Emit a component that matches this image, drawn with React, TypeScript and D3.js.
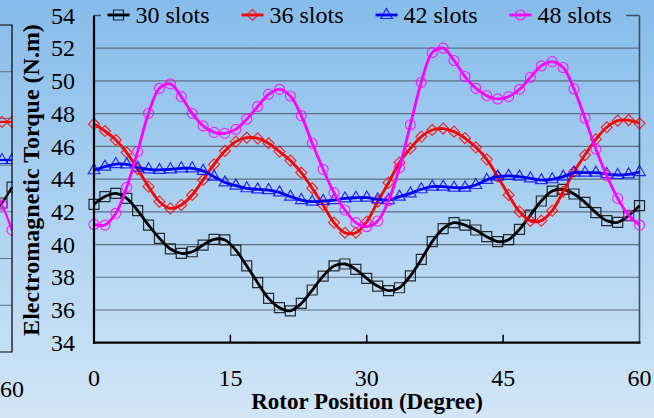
import React from 'react';
import * as d3 from 'd3';

const W = 654;
const H = 418;

// Series definitions
const seriesNames = ['30 slots', '36 slots', '42 slots', '48 slots'];
const seriesColors = ['#000000', '#ff0000', '#0000ff', '#ff00ff'];
const seriesMarkers = ['square', 'diamond', 'triangle', 'circle'];

// Rotor positions sampled every 1.2 degrees over one 60-degree period
const rotorPositions = d3.range(51).map((i) => Math.round(i * 12) / 10);

const torque30 = [
  42.46, 42.93, 43.13, 42.82, 42.07, 41.19, 40.38, 39.73, 39.46, 39.56,
  39.97, 40.32, 40.28, 39.66, 38.69, 37.67, 36.71, 36.14, 35.95, 36.4,
  37.22, 38.07, 38.69, 38.81, 38.48, 37.93, 37.46, 37.18, 37.36, 38.08,
  39.09, 40.18, 40.97, 41.34, 41.19, 40.89, 40.48, 40.18, 40.3, 40.93,
  41.8, 42.66, 43.27, 43.37, 43.09, 42.58, 41.95, 41.46, 41.36, 41.76, 42.38,
];
const torque36 = [
  47.37, 46.94, 46.39, 45.62, 44.6, 43.54, 42.62, 42.21, 42.42, 43.03,
  43.95, 44.9, 45.72, 46.29, 46.53, 46.49, 46.19, 45.68, 45.13, 44.39,
  43.44, 42.42, 41.34, 40.72, 40.72, 41.4, 42.62, 43.78, 45.01, 45.88,
  46.6, 47.0, 47.09, 46.9, 46.5, 45.94, 45.21, 44.15, 43.03, 42.01,
  41.44, 41.46, 42.07, 43.23, 44.45, 45.47, 46.43, 47.17, 47.57, 47.61, 47.41,
];
const torque42 = [
  44.54, 44.76, 44.92, 44.9, 44.7, 44.6, 44.56, 44.6, 44.66, 44.66,
  44.5, 44.15, 43.8, 43.6, 43.44, 43.37, 43.33, 43.19, 42.93, 42.72,
  42.62, 42.66, 42.72, 42.82, 42.86, 42.87, 42.76, 42.72, 42.93, 43.13,
  43.38, 43.54, 43.54, 43.48, 43.48, 43.64, 43.95, 44.15, 44.2, 44.15,
  44.05, 43.94, 43.99, 44.15, 44.39, 44.39, 44.39, 44.31, 44.25, 44.29, 44.43,
];
const torque48 = [
  41.23, 41.19, 41.91, 43.5, 45.68, 48.02, 49.55, 49.82, 49.04, 48.02,
  47.25, 46.86, 46.8, 47.04, 47.66, 48.43, 49.18, 49.49, 49.08, 47.88,
  46.19, 44.6, 43.17, 42.11, 41.34, 41.09, 41.44, 42.68, 44.7, 47.31,
  49.92, 51.73, 52.0, 51.25, 50.27, 49.55, 49.1, 48.9, 49.04, 49.49,
  50.22, 50.92, 51.18, 50.82, 49.51, 47.72, 45.84, 44.21, 42.82, 41.8, 41.19,
];
const seriesValues = [torque30, torque36, torque42, torque48];

const yTicks = [34, 36, 38, 40, 42, 44, 46, 48, 50, 52, 54];
const xTicks = [0, 15, 30, 45, 60];

// Tail end of the neighbouring panel at the left edge
const neighbourPositions = [57.6, 58.8, 60];
const neighbour30 = [39.9, 40.38, 41.06];
const neighbour36 = [43.85, 43.85, 43.85];
const neighbour42 = [42.22, 42.22, 42.22];
const neighbour48 = [41.0, 40.29, 39.22];
const neighbourValues = [neighbour30, neighbour36, neighbour42, neighbour48];
const neighbourGrid = [34, 36, 38, 40, 42, 44, 46, 48];

const FONT = '"Liberation Serif", "DejaVu Serif", serif';
const textStyle = { fontFamily: FONT };

const x = d3.scaleLinear().domain([0, 60]).range([94, 639.5]);
const y = d3.scaleLinear().domain([34, 54]).range([342.7, 15.5]);

const nx = d3.scaleLinear().domain([58.8, 60]).range([2, 12]);
const ny = d3.scaleLinear().domain([34, 48]).range([352, 25]);

function markerPath(kind: string): string {
  switch (kind) {
    case 'square':
      return 'M-5,-5H5V5H-5Z';
    case 'diamond':
      return 'M0,-5.5L5.5,0L0,5.5L-5.5,0Z';
    case 'triangle':
      return 'M0,-6.5L5.8,3.5L-5.8,3.5Z';
    default:
      return 'M-5,0A5,5 0 1,0 5,0A5,5 0 1,0 -5,0Z';
  }
}

function Marker({ kind, color, cx, cy }: { kind: string; color: string; cx: number; cy: number }) {
  return (
    <path
      d={markerPath(kind)}
      transform={`translate(${cx},${cy})`}
      fill="none"
      stroke={color}
      strokeWidth={1.2}
      strokeOpacity={0.8}
    />
  );
}

export default function App() {
  const line = d3
    .line<number>()
    .x((_, i) => x(rotorPositions[i]))
    .y((d) => y(d))
    .curve(d3.curveCatmullRom.alpha(0.5));

  const nLine = d3
    .line<number>()
    .x((_, i) => nx(neighbourPositions[i]))
    .y((d) => ny(d))
    .curve(d3.curveCatmullRom.alpha(0.5));

  const gridColor = '#5d7083';

  return (
    <svg
      width={W}
      height={H}
      style={{ position: 'absolute', left: 0, top: 0, display: 'block' }}
    >
      <defs>
        <linearGradient id="bg" gradientUnits="userSpaceOnUse" x1={0} y1={0} x2={0} y2={H}>
          <stop offset="0" stopColor="#86bcea" />
          <stop offset="1" stopColor="#d2e6f7" />
        </linearGradient>
        <clipPath id="neighbourClip">
          <rect x={0} y={0} width={13} height={H} />
        </clipPath>
      </defs>
      <rect x={0} y={0} width={W} height={H} fill="url(#bg)" />

      {/* neighbouring panel tail */}
      <g clipPath="url(#neighbourClip)">
        {neighbourGrid.slice(1, -1).map((v) => (
          <line key={v} x1={0} x2={12} y1={ny(v)} y2={ny(v)} stroke={gridColor} strokeWidth={1} />
        ))}
        {neighbourValues.map((vals, si) => (
          <g key={si}>
            <path d={nLine(vals) || ''} fill="none" stroke={seriesColors[si]} strokeWidth={2.2} />
            {vals.map((v, i) => (
              <Marker key={i} kind={seriesMarkers[si]} color={seriesColors[si]} cx={nx(neighbourPositions[i])} cy={ny(v)} />
            ))}
          </g>
        ))}
        <path d={`M0,${ny(48)}H12V${ny(34)}H0`} fill="none" stroke="#000" strokeWidth={1.2} />
      </g>
      <text x={nx(60)} y={397} fontSize={24} textAnchor="middle" fill="#000" style={textStyle}>60</text>

      {/* gridlines */}
      {yTicks.slice(1, -1).map((v) => (
        <line key={v} x1={x(0)} x2={x(60)} y1={y(v)} y2={y(v)} stroke={gridColor} strokeWidth={1.2} />
      ))}

      {/* plot frame */}
      <line x1={x(0)} x2={x(60)} y1={y(54)} y2={y(54)} stroke="#3d4d5c" strokeWidth={1.4} />
      <line x1={x(60)} x2={x(60)} y1={y(54)} y2={y(34)} stroke="#3d4d5c" strokeWidth={1.6} />

      {/* series */}
      {seriesValues.map((vals, si) => (
        <g key={seriesNames[si]}>
          <path d={line(vals) || ''} fill="none" stroke={seriesColors[si]} strokeWidth={2.8} />
          {vals.map((v, i) => (
            <Marker key={i} kind={seriesMarkers[si]} color={seriesColors[si]} cx={x(rotorPositions[i])} cy={y(v)} />
          ))}
        </g>
      ))}

      {/* axes */}
      <line x1={x(0)} x2={x(0)} y1={y(54)} y2={y(34) + 1} stroke="#000" strokeWidth={2.2} />
      <line x1={x(0) - 1} x2={x(60) + 1} y1={y(34)} y2={y(34)} stroke="#000" strokeWidth={2.2} />
      {xTicks.slice(1, -1).map((t) => (
        <line key={t} x1={x(t)} x2={x(t)} y1={y(34)} y2={y(34) - 8} stroke="#000" strokeWidth={1.5} />
      ))}

      {yTicks.map((v) => (
        <text key={v} x={75} y={y(v)} dy="0.34em" fontSize={24} textAnchor="end" fill="#000" style={textStyle}>
          {v}
        </text>
      ))}
      {xTicks.map((t) => (
        <text key={t} x={x(t)} y={386} fontSize={24} textAnchor="middle" fill="#000" style={textStyle}>
          {t}
        </text>
      ))}

      <text x={367} y={409} fontSize={23} fontWeight="bold" textAnchor="middle" fill="#000" style={textStyle}>
        Rotor Position (Degree)
      </text>
      <text
        transform="translate(39,180) rotate(-90)"
        fontSize={24}
        fontWeight="bold"
        textAnchor="middle"
        fill="#000"
        style={textStyle}
      >
        Electromagnetic Torque (N.m)
      </text>

      {/* legend */}
      <rect x={101} y={0} width={525} height={30} fill="url(#bg)" />
      {seriesNames.map((name, i) => {
        const lx = 107.5 + i * 134;
        return (
          <g key={name}>
            <line x1={lx} x2={lx + 22} y1={15} y2={15} stroke={seriesColors[i]} strokeWidth={2.8} />
            <Marker kind={seriesMarkers[i]} color={seriesColors[i]} cx={lx + 11} cy={15} />
            <text x={lx + 28} y={22.5} fontSize={24} fill="#000" style={textStyle}>
              {name}
            </text>
          </g>
        );
      })}
    </svg>
  );
}
